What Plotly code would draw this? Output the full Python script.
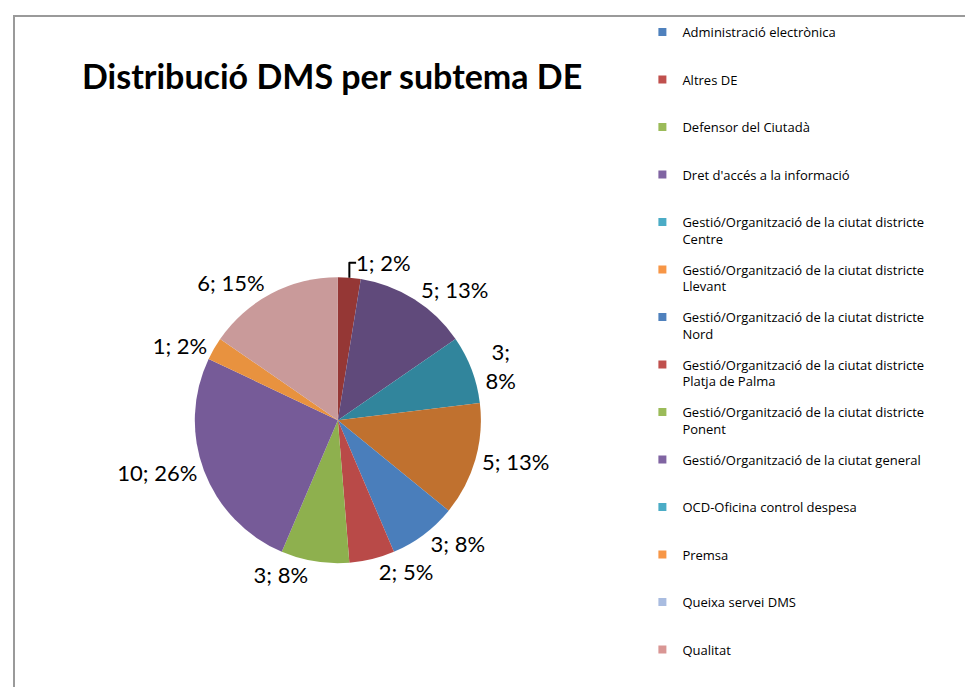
import plotly.graph_objects as go

categories = [
    "Administració electrònica",
    "Altres DE",
    "Defensor del Ciutadà",
    "Dret d'accés a la informació",
    "Gestió/Organització de la ciutat districte Centre",
    "Gestió/Organització de la ciutat districte Llevant",
    "Gestió/Organització de la ciutat districte Nord",
    "Gestió/Organització de la ciutat districte Platja de Palma",
    "Gestió/Organització de la ciutat districte Ponent",
    "Gestió/Organització de la ciutat general",
    "OCD-Oficina control despesa",
    "Premsa",
    "Queixa servei DMS",
    "Qualitat",
]
legend_labels = [
    "Administració electrònica",
    "Altres DE",
    "Defensor del Ciutadà",
    "Dret d'accés a la informació",
    "Gestió/Organització de la ciutat districte<br>Centre",
    "Gestió/Organització de la ciutat districte<br>Llevant",
    "Gestió/Organització de la ciutat districte<br>Nord",
    "Gestió/Organització de la ciutat districte<br>Platja de Palma",
    "Gestió/Organització de la ciutat districte<br>Ponent",
    "Gestió/Organització de la ciutat general",
    "OCD-Oficina control despesa",
    "Premsa",
    "Queixa servei DMS",
    "Qualitat",
]
values = [0, 1, 0, 5, 3, 5, 3, 2, 3, 10, 0, 1, 0, 6]
pct_labels = ["0%", "2%", "0%", "13%", "8%", "13%", "8%", "5%", "8%", "26%", "0%", "2%", "0%", "15%"]

slice_colors = ["#4A7EBB", "#953735", "#9BBB59", "#604A7B", "#31859C", "#C0712F", "#4A7EBB",
                "#B94A48", "#8EB04E", "#765B98", "#4BACC6", "#E8923F", "#B9C6E0", "#C99A9A"]
legend_colors = ["#4F81BD", "#C0504D", "#9BBB59", "#8064A2", "#4BACC6", "#F79646", "#4F81BD",
                 "#C0504D", "#9BBB59", "#8064A2", "#4BACC6", "#F79646", "#A9BCE0", "#D99694"]

texts = []
for i, (v, p) in enumerate(zip(values, pct_labels)):
    if v == 0:
        texts.append("")
    elif i == 4:
        texts.append(f"{v};<br>{p}")
    else:
        texts.append(f"{v}; {p}")

fig = go.Figure()
fig.add_trace(go.Pie(
    labels=categories,
    values=values,
    text=texts,
    textinfo="text",
    textposition="outside",
    sort=False,
    direction="clockwise",
    rotation=0,
    marker=dict(colors=slice_colors, line=dict(width=0)),
    outsidetextfont=dict(family="Lato", size=22, color="#000000"),
    domain=dict(x=[0.192, 0.486], y=[0.19, 0.61]),
    showlegend=False,
    hoverinfo="label+value+percent",
))

for name, col in zip(legend_labels, legend_colors):
    disp = name if "<br>" in name else name + "<br> "
    fig.add_trace(go.Scatter(
        x=[None], y=[None], mode="markers", name=disp, legendgroup=name,
        marker=dict(symbol="square", size=8, color=col),
        showlegend=True, hoverinfo="skip",
    ))

fig.update_layout(
    width=973, height=687,
    margin=dict(l=0, r=0, t=0, b=0),
    paper_bgcolor="white", plot_bgcolor="white",
    xaxis=dict(visible=False), yaxis=dict(visible=False),
    title=dict(text="<b>Distribució DMS per subtema DE</b>", x=74/973, xanchor="left",
               y=1 - 69/687, yanchor="middle",
               font=dict(family="Lato", size=34, color="#000000")),
    legend=dict(x=0.652, y=1 - 9/687, xanchor="left", yanchor="top",
                traceorder="grouped", tracegroupgap=10.7, valign="top",
                font=dict(family="Open Sans", size=13, color="#000000"),
                bgcolor="rgba(0,0,0,0)"),
    shapes=[dict(type="rect", xref="paper", yref="paper",
                 x0=6/973, y0=-0.05, x1=1.05, y1=1 - 8/687,
                 line=dict(color="#9A9A9A", width=2), layer="above")],
)

fig.write_html("out.html")
